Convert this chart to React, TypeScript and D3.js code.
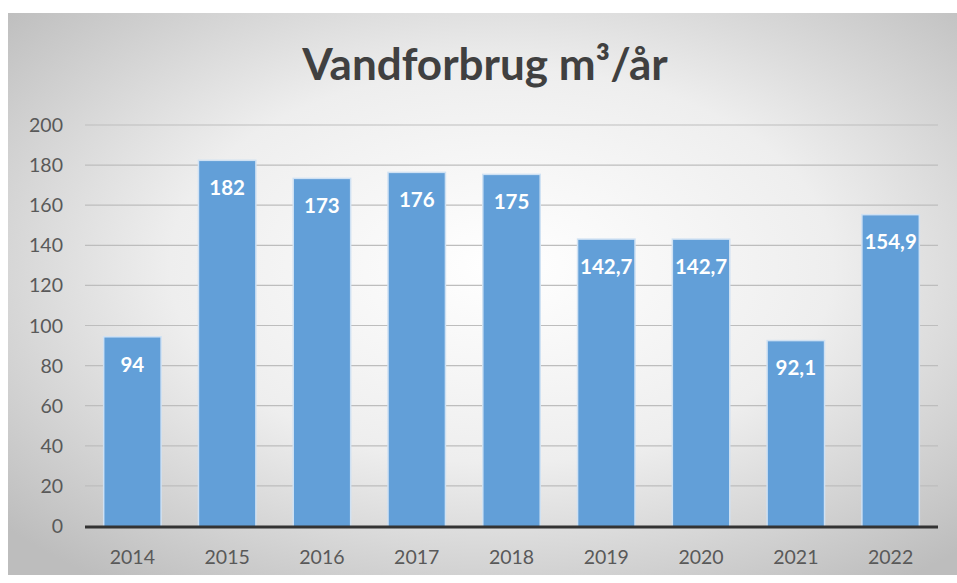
import { useEffect, useRef } from 'react';
import * as d3 from 'd3';

// chart data
const years = ['2014', '2015', '2016', '2017', '2018', '2019', '2020', '2021', '2022'];
const usage = [94, 182, 173, 176, 175, 142.7, 142.7, 92.1, 154.9];
const yTicks = [0, 20, 40, 60, 80, 100, 120, 140, 160, 180, 200];
const title = 'Vandforbrug m³/år';

export default function App() {
    const ref = useRef<SVGSVGElement>(null);

    useEffect(() => {
        const width = 957;
        const height = 583;
        const svg = d3.select(ref.current);
        svg.selectAll('*').remove();

        // background
        const defs = svg.append('defs');
        const bg = defs.append('radialGradient')
            .attr('id', 'bg')
            .attr('cx', '52%').attr('cy', '45%').attr('r', '70%');
        bg.append('stop').attr('offset', '0%').attr('stop-color', '#ffffff');
        bg.append('stop').attr('offset', '50%').attr('stop-color', '#eeeeee');
        bg.append('stop').attr('offset', '100%').attr('stop-color', '#bdbdbd');

        svg.append('rect')
            .attr('width', width).attr('height', height)
            .attr('fill', '#ffffff');
        svg.append('rect')
            .attr('x', 8).attr('y', 13)
            .attr('width', width - 8).attr('height', 562)
            .attr('fill', 'url(#bg)');

        // scales
        const x = d3.scaleBand()
            .domain(years)
            .range([85, 938])
            .paddingInner(0.41)
            .paddingOuter(0.205);
        const y = d3.scaleLinear()
            .domain([0, 200])
            .range([526, 125]);

        // gridlines
        svg.append('g')
            .selectAll('line')
            .data(yTicks.filter(d => d > 0))
            .enter()
            .append('line')
            .attr('x1', 85).attr('x2', 938)
            .attr('y1', d => y(d)).attr('y2', d => y(d))
            .attr('stroke', '#bdbdbd')
            .attr('stroke-width', 1.2);

        // y labels
        svg.append('g')
            .selectAll('text')
            .data(yTicks)
            .enter()
            .append('text')
            .attr('x', 63)
            .attr('y', d => y(d) + 7)
            .attr('text-anchor', 'end')
            .attr('font-family', 'Lato, sans-serif')
            .attr('font-size', 19.5)
            .attr('fill', '#595959')
            .text(d => d);

        // bars
        const bars = svg.append('g')
            .selectAll('g')
            .data(years.map((yr, i) => ({ yr, v: usage[i] })))
            .enter()
            .append('g');

        bars.append('rect')
            .attr('x', d => x(d.yr)! - 1.5)
            .attr('y', d => y(d.v) - 1.5)
            .attr('width', x.bandwidth() + 3)
            .attr('height', d => y(0) - y(d.v) + 1.5)
            .attr('fill', '#cfe1f3');
        bars.append('rect')
            .attr('x', d => x(d.yr)!)
            .attr('y', d => y(d.v))
            .attr('width', x.bandwidth())
            .attr('height', d => y(0) - y(d.v))
            .attr('fill', '#629fd8');

        bars.append('text')
            .attr('x', d => x(d.yr)! + x.bandwidth() / 2)
            .attr('y', d => y(d.v) + 34)
            .attr('text-anchor', 'middle')
            .attr('font-family', 'Lato, sans-serif')
            .attr('font-weight', 'bold')
            .attr('font-size', 20.5)
            .attr('fill', '#ffffff')
            .text(d => String(d.v).replace('.', ','));

        // x axis line
        svg.append('line')
            .attr('x1', 85).attr('x2', 938)
            .attr('y1', y(0) + 1).attr('y2', y(0) + 1)
            .attr('stroke', '#333333')
            .attr('stroke-width', 3);

        // x labels
        svg.append('g')
            .selectAll('text')
            .data(years)
            .enter()
            .append('text')
            .attr('x', d => x(d)! + x.bandwidth() / 2)
            .attr('y', 564)
            .attr('text-anchor', 'middle')
            .attr('font-family', 'Lato, sans-serif')
            .attr('font-size', 19.5)
            .attr('fill', '#595959')
            .text(d => d);

        // title
        svg.append('text')
            .attr('x', 485)
            .attr('y', 80)
            .attr('text-anchor', 'middle')
            .attr('font-family', 'Lato, sans-serif')
            .attr('font-weight', 'bold')
            .attr('font-size', 44)
            .attr('fill', '#404040')
            .text(title);
    }, []);

    return (
        <svg ref={ref} width={957} height={583}
            style={{ position: 'absolute', left: 0, top: 0 }} />
    );
}
